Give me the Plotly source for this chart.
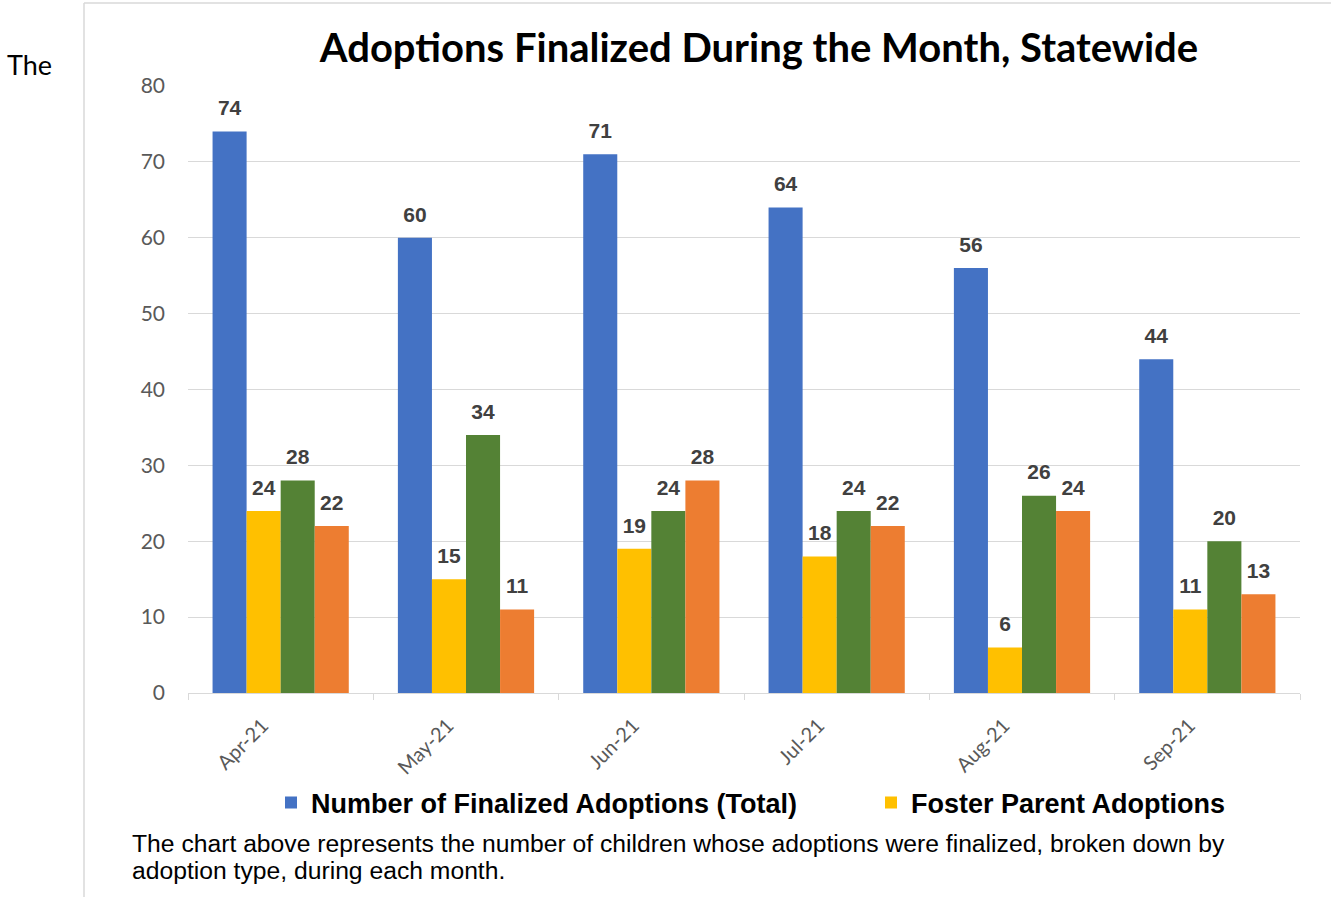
import plotly.graph_objects as go

months = ["Apr-21", "May-21", "Jun-21", "Jul-21", "Aug-21", "Sep-21"]
total_adoptions = [74, 60, 71, 64, 56, 44]
foster_parent = [24, 15, 19, 18, 6, 11]
relative_adoptions = [28, 34, 24, 24, 26, 20]
other_adoptions = [22, 11, 28, 22, 24, 13]

series = [
    ("Number of Finalized Adoptions (Total)", total_adoptions, "#4472C4", True),
    ("Foster Parent Adoptions", foster_parent, "#FFC000", True),
    ("Relative Adoptions", relative_adoptions, "#548235", False),
    ("Other Adoptions", other_adoptions, "#ED7D31", False),
]

caption_lines = [
    "The chart above represents the number of children whose adoptions were finalized, broken down by",
    "adoption type, during each month.",
]

# plot area in page pixels
W, H = 1331, 897
L, R, T, B = 188, 1300, 86, 693


def px_x(x):
    return (x - L) / (R - L)


def px_y(y):
    return (B - y) / (B - T)


fig = go.Figure()

for i, (name, vals, color, in_legend) in enumerate(series):
    fig.add_trace(
        go.Bar(
            x=months,
            y=vals,
            name=name,
            marker={"color": color, "line": {"width": 0}},
            showlegend=in_legend,
            # first legend entry is widened so the second one lands where it should
            legendwidth=555 if i == 0 else None,
            hoverinfo="x+y+name",
        )
    )

# data labels, grouped the same way as the bars
for name, vals, color, in_legend in series:
    fig.add_trace(
        go.Scatter(
            x=months,
            y=vals,
            mode="markers+text",
            text=[str(v) for v in vals],
            textposition="top center",
            textfont={"family": "Liberation Sans", "size": 21, "color": "#404040", "weight": "bold"},
            marker={"size": 16, "color": "rgba(0,0,0,0)"},
            showlegend=False,
            hoverinfo="skip",
            cliponaxis=False,
        )
    )

annotations = [
    {
        "text": "The",
        "xref": "paper",
        "yref": "paper",
        "x": px_x(5),
        "y": px_y(65),
        "xanchor": "left",
        "yanchor": "middle",
        "showarrow": False,
        "font": {"family": "Lato", "size": 27, "color": "black"},
    }
]
for line, y in zip(caption_lines, [843, 870]):
    annotations.append(
        {
            "text": line,
            "xref": "paper",
            "yref": "paper",
            "x": px_x(130),
            "y": px_y(y),
            "xanchor": "left",
            "yanchor": "middle",
            "showarrow": False,
            "font": {"family": "Liberation Sans", "size": 24.7, "color": "black"},
        }
    )

fig.update_layout(
    width=W,
    height=H,
    margin={"l": L, "r": W - R, "t": T, "b": H - B},
    paper_bgcolor="white",
    plot_bgcolor="white",
    barmode="group",
    bargap=0.265,
    bargroupgap=0,
    scattermode="group",
    scattergap=0.265,
    title={
        "text": "Adoptions Finalized During the Month, Statewide",
        "font": {"family": "Lato", "size": 40, "color": "black", "weight": "bold"},
        "x": 759 / W,
        "xanchor": "center",
        "xref": "container",
        "y": 1 - 48 / H,
        "yanchor": "middle",
        "yref": "container",
    },
    legend={
        "orientation": "h",
        "x": px_x(271),
        "xanchor": "left",
        "y": px_y(803),
        "yanchor": "middle",
        "font": {"family": "Liberation Sans", "size": 27, "color": "black", "weight": "bold"},
        "traceorder": "normal",
    },
    xaxis={
        "tickangle": -45,
        "tickfont": {"family": "Lato", "size": 20, "color": "#595959"},
        "ticklabelshift": -18,
        "ticklabelstandoff": 12,
        "showline": True,
        "linecolor": "#d9d9d9",
        "linewidth": 1,
        "ticks": "outside",
        "tickson": "boundaries",
        "ticklen": 6,
        "tickcolor": "#d9d9d9",
        "showgrid": False,
    },
    yaxis={
        "range": [0, 80],
        "dtick": 10,
        "gridcolor": "#d9d9d9",
        "gridwidth": 1,
        "zeroline": False,
        "tickfont": {"family": "Lato", "size": 21, "color": "#595959"},
        "ticklabelstandoff": 22,
    },
    annotations=annotations,
    shapes=[
        {
            "type": "line",
            "xref": "paper",
            "yref": "paper",
            "x0": px_x(84),
            "x1": px_x(1331),
            "y0": px_y(3),
            "y1": px_y(3),
            "line": {"color": "#d9d9d9", "width": 1.5},
        },
        {
            "type": "line",
            "xref": "paper",
            "yref": "paper",
            "x0": px_x(84),
            "x1": px_x(84),
            "y0": px_y(3),
            "y1": px_y(897),
            "line": {"color": "#d9d9d9", "width": 1.5},
        },
    ],
)

# the page's default body margin would push the figure 8px right and down
fig.write_html(
    "out.html",
    config={"displayModeBar": False},
    post_script="document.body.style.margin = '0';",
)
